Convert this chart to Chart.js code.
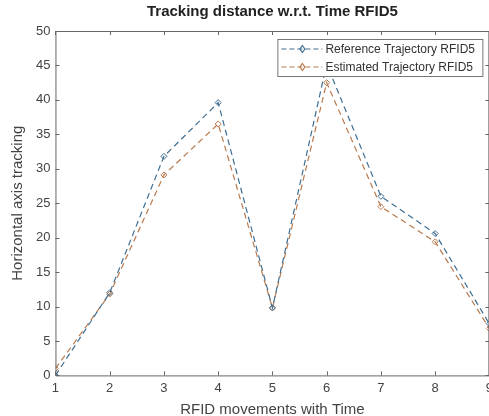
<!DOCTYPE html>
<html><head><meta charset="utf-8">
<script src="https://cdn.jsdelivr.net/npm/chart.js@4.4.0/dist/chart.umd.min.js"></script>
<style>html,body{margin:0;padding:0;background:#fff;overflow:hidden;width:489px;height:416px}
#wrap{width:498px;height:416px;position:relative}</style>
</head><body><div id="wrap"><canvas id="c"></canvas></div>
<script>
const categories = [1,2,3,4,5,6,7,8,9];
const referenceTrajectory = [0, 12, 31.8, 39.6, 9.8, 45.2, 26, 20.6, 7.5];
const estimatedTrajectory = [1, 11.8, 29.1, 36.5, 9.8, 42.5, 24.5, 19.4, 6.8];
const yTicks = [0,5,10,15,20,25,30,35,40,45,50];
const seriesNames = ['Reference Trajectory RFID5','Estimated Trajectory RFID5'];
const titleText = 'Tracking distance w.r.t. Time RFID5';
const xTitle = 'RFID movements with Time';
const yTitle = 'Horizontal axis tracking';

const blue = '#3e6e92', orange = '#b97a4e';
const FONT = '"Liberation Sans", Arial, sans-serif';

const boxPlugin = {
  id:'box',
  afterDraw(chart){
    const {ctx, chartArea:a, scales:{x,y}} = chart;
    ctx.save();
    ctx.strokeStyle='#666'; ctx.lineWidth=1;
    ctx.beginPath();
    ctx.moveTo(a.left+0.5,a.top+0.5); ctx.lineTo(a.right,a.top+0.5);
    ctx.moveTo(a.left+0.5,a.bottom+0.5); ctx.lineTo(a.right,a.bottom+0.5);
    ctx.moveTo(a.left+0.5,a.top); ctx.lineTo(a.left+0.5,a.bottom);
    ctx.moveTo(a.right-0.5,a.top); ctx.lineTo(a.right-0.5,a.bottom);
    const L=4;
    x.ticks.forEach(t=>{const px=Math.round(x.getPixelForValue(t.value))+0.5;
      ctx.moveTo(px,a.bottom); ctx.lineTo(px,a.bottom-L);
      ctx.moveTo(px,a.top); ctx.lineTo(px,a.top+L);});
    y.ticks.forEach(t=>{const py=Math.round(y.getPixelForValue(t.value))+0.5;
      ctx.moveTo(a.left,py); ctx.lineTo(a.left+L,py);
      ctx.moveTo(a.right,py); ctx.lineTo(a.right-L,py);});
    ctx.stroke();
    // legend
    const lw=205, lh=37, lx=a.right-7-lw, ly=a.top+8;
    ctx.fillStyle='#fff'; ctx.fillRect(lx,ly,lw,lh);
    ctx.strokeStyle='#777'; ctx.strokeRect(lx+0.5,ly+0.5,lw,lh);
    const cols=[blue,orange];
    seriesNames.forEach((n,i)=>{
      const yy=ly+10+i*18;
      ctx.strokeStyle=cols[i]; ctx.lineWidth=1.2; ctx.setLineDash([5,3]);
      ctx.beginPath(); ctx.moveTo(lx+4,yy); ctx.lineTo(lx+45,yy); ctx.stroke();
      ctx.setLineDash([]);
      ctx.beginPath(); const cx=lx+25; ctx.moveTo(cx,yy-3.5);ctx.lineTo(cx+2.5,yy);ctx.lineTo(cx,yy+3.5);ctx.lineTo(cx-2.5,yy);ctx.closePath();ctx.stroke();
      ctx.fillStyle='#333'; ctx.font='12px '+FONT; ctx.textBaseline='middle'; ctx.textAlign='left';
      ctx.fillText(n,lx+48,yy+1);
    });
    ctx.restore();
  }
};

new Chart(document.getElementById('c'),{
  type:'line',
  data:{labels:categories,datasets:[
    {label:seriesNames[0],data:categories.map((c,i)=>({x:c,y:referenceTrajectory[i]})),borderColor:blue,borderWidth:1.2,borderDash:[6,4],pointStyle:'rectRot',pointRadius:3,pointBorderColor:blue,pointBackgroundColor:'rgba(0,0,0,0)',pointBorderWidth:1,tension:0},
    {label:seriesNames[1],data:categories.map((c,i)=>({x:c,y:estimatedTrajectory[i]})),borderColor:orange,borderWidth:1.2,borderDash:[6,4],pointStyle:'rectRot',pointRadius:3,pointBorderColor:orange,pointBackgroundColor:'rgba(0,0,0,0)',pointBorderWidth:1,tension:0}
  ]},
  options:{
    responsive:true, maintainAspectRatio:false, animation:false,
    layout:{padding:{left:9,right:0,top:3,bottom:-3}},
    plugins:{
      legend:{display:false}, tooltip:{enabled:false},
      title:{display:true,text:titleText,fullSize:false,color:'#222',font:{family:FONT,size:15,weight:'bold'},padding:{top:0,bottom:10}}
    },
    scales:{
      x:{type:'linear',min:1,max:9,offset:false,
         afterBuildTicks(s){s.ticks=categories.map(v=>({value:v}));},
         grid:{display:false,drawTicks:false},border:{display:false},
         ticks:{color:'#444',font:{family:FONT,size:13},padding:5,maxRotation:0,autoSkip:false},
         title:{display:true,text:xTitle,color:'#444',font:{family:FONT,size:15},padding:{top:0,bottom:0}}},
      y:{min:0,max:50,
         afterBuildTicks(s){s.ticks=yTicks.map(v=>({value:v}));},
         grid:{display:false,drawTicks:false},border:{display:false},
         ticks:{color:'#444',font:{family:FONT,size:13},padding:5},
         title:{display:true,text:yTitle,color:'#444',font:{family:FONT,size:15},padding:{top:0,bottom:4}}}
    }
  },
  plugins:[boxPlugin]
});
</script></body></html>
